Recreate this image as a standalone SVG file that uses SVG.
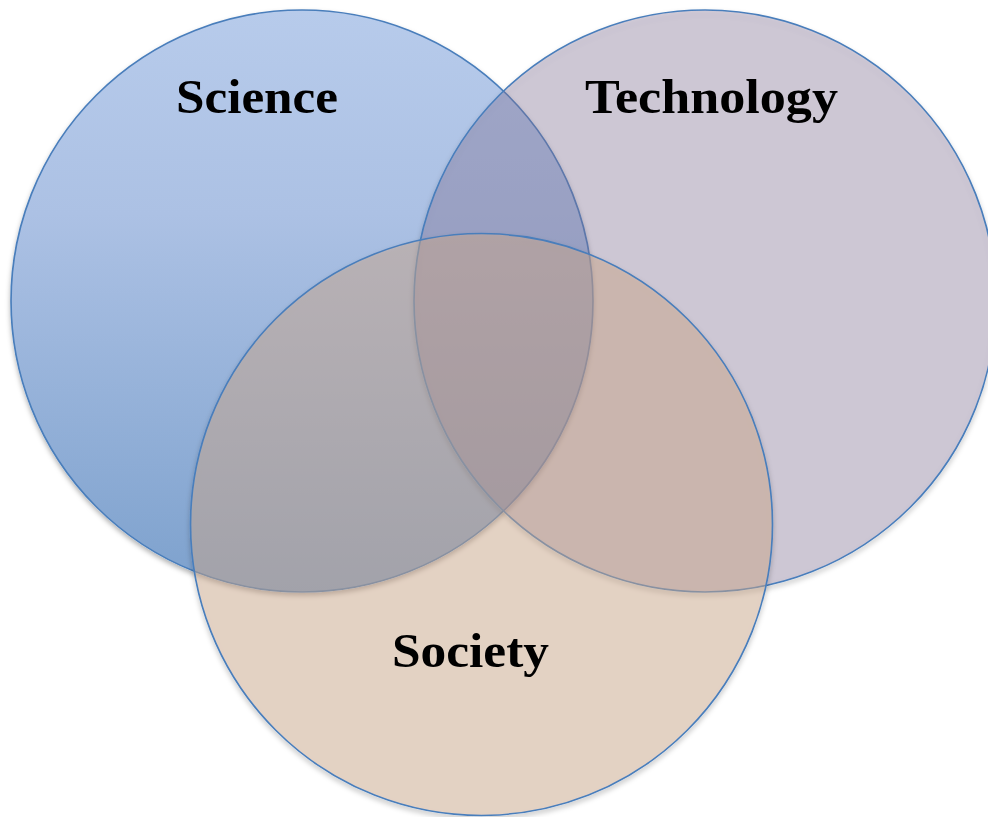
<svg xmlns="http://www.w3.org/2000/svg" width="988" height="817" viewBox="0 0 988 817">
<defs>
<linearGradient id="gSci" x1="0" y1="0" x2="0" y2="1">
<stop offset="0" stop-color="#b7cbeb"/>
<stop offset="0.35" stop-color="#acc1e4"/>
<stop offset="1" stop-color="#7da1cd"/>
</linearGradient>
<filter id="sh" x="-10%" y="-10%" width="120%" height="125%">
<feGaussianBlur in="SourceAlpha" stdDeviation="2.5" result="b"/>
<feOffset in="b" dy="3" result="o"/>
<feComposite in="o" in2="SourceAlpha" operator="out" result="oo"/>
<feFlood flood-color="#000" flood-opacity="0.3"/>
<feComposite in2="oo" operator="in" result="s"/>
<feMerge><feMergeNode in="s"/><feMergeNode in="SourceGraphic"/></feMerge>
</filter>
<style>
.c{stroke:#4a7ebb;stroke-width:1.7}
.t{font-family:"Liberation Serif","Times New Roman",serif;font-weight:bold;font-size:48px;fill:#000}
</style>
</defs>
<rect width="988" height="817" fill="#fff"/>
<g id="science">
<circle class="c" cx="302" cy="301" r="291" fill="url(#gSci)" filter="url(#sh)"/>
</g>
<g id="technology">
<circle class="c" cx="705" cy="301" r="291" fill="#857399" fill-opacity="0.34" filter="url(#sh)"/>
</g>
<g id="society">
<circle class="c" cx="481.5" cy="524.5" r="291" fill="#ceab8e" fill-opacity="0.46" filter="url(#sh)"/>
</g>
<g id="labels">
<text class="t" x="176" y="113" textLength="162" lengthAdjust="spacingAndGlyphs">Science</text>
<text class="t" x="585" y="113" textLength="253" lengthAdjust="spacingAndGlyphs">Technology</text>
<text class="t" x="392" y="667" textLength="157" lengthAdjust="spacingAndGlyphs">Society</text>
</g>
</svg>
